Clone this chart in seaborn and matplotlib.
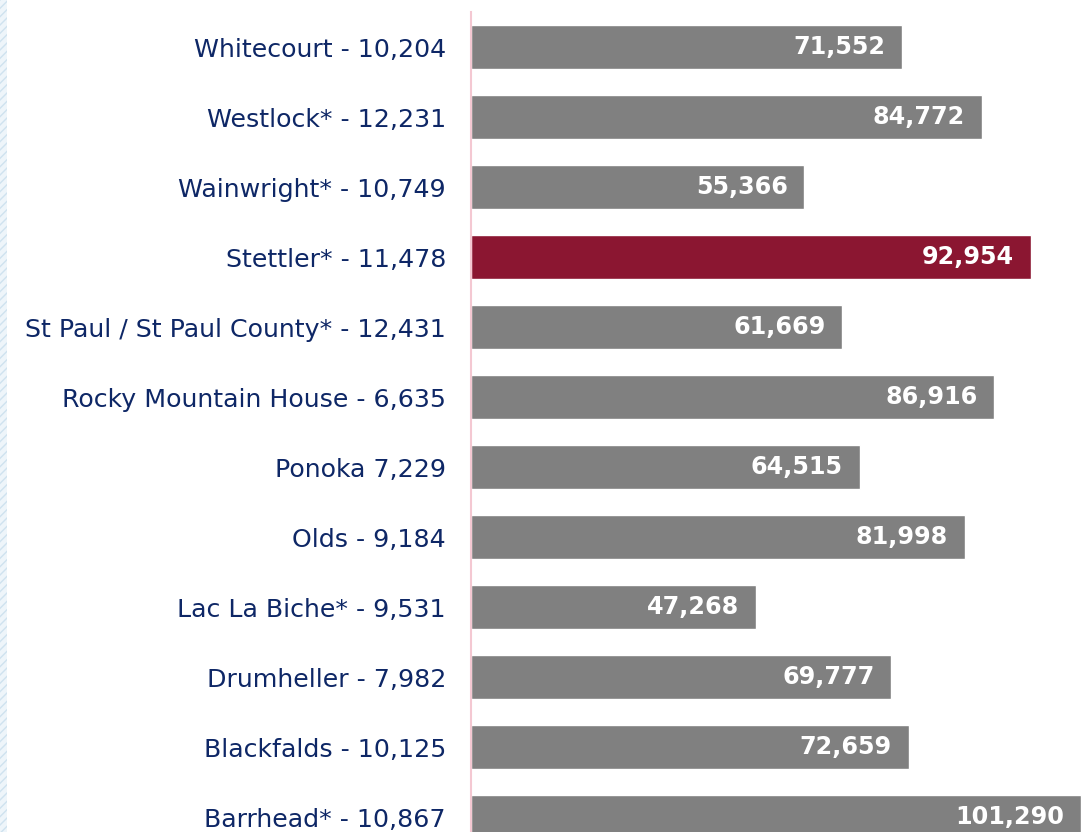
# Population of rural service centres with the bar length showing average household income.
# Stettler is the community of interest, so it is drawn in the highlight colour.

import pandas as pd
import numpy as np
from matplotlib import pyplot as plt
from matplotlib.patches import Rectangle
import seaborn as sns


# the data, top to bottom
towns = ["Whitecourt - 10,204", "Westlock* - 12,231", "Wainwright* - 10,749",
         "Stettler* - 11,478", "St Paul / St Paul County* - 12,431",
         "Rocky Mountain House - 6,635", "Ponoka 7,229", "Olds - 9,184",
         "Lac La Biche* - 9,531", "Drumheller - 7,982", "Blackfalds - 10,125",
         "Barrhead* - 10,867"]
income = [71552, 84772, 55366, 92954, 61669, 86916, 64515, 81998,
          47268, 69777, 72659, 101290]
highlight = "Stettler* - 11,478"

df = pd.DataFrame({"town": towns, "income": income})
colors = {t: ("#8B1631" if t == highlight else "#808080") for t in towns}

sns.set_style("white")

fig, ax = plt.subplots()
fig.set_size_inches(10.91, 8.32)
ax.set_position([471 / 1091, -20 / 832, 620 / 1091, 840 / 832])  # last bar runs off the bottom

sns.barplot(data=df, x="income", y="town", hue="town", palette=colors,
            legend=False, width=0.62, saturation=1, ax=ax)

ax.set_xlim(0, 102950)
ax.set_xlabel("")
ax.set_ylabel("")
ax.set_xticks([])
for side in ["top", "right", "bottom"]:
    ax.spines[side].set_visible(False)
ax.spines["left"].set_color("#F4C8D2")
ax.spines["left"].set_linewidth(1.5)
ax.tick_params(axis="y", length=0, pad=18, labelsize=18.2, labelcolor="#0E2766")

# value labels inside the bar ends
for i, v in enumerate(income):
    ax.text(v - 2800, i, f"{v:,}", ha="right", va="center", color="white",
            fontsize=17.2, fontweight="bold")

# hatched strip down the left edge
fig.patches.append(Rectangle((0, 0), 7 / 1091, 1, transform=fig.transFigure,
                             facecolor="#EEF5FA", edgecolor="#CFE2EF", hatch="////",
                             linewidth=0, zorder=0))

fig.savefig("out.png", dpi=100)
